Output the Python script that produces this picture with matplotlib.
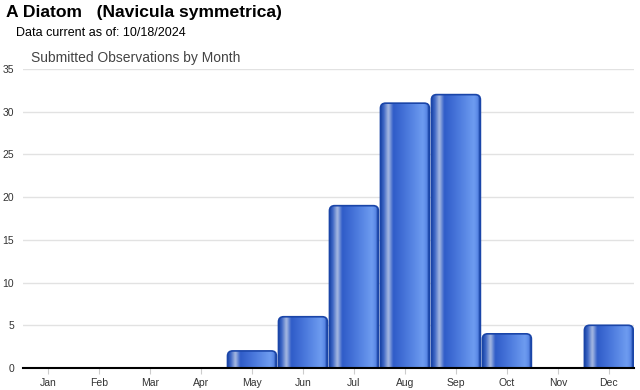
import numpy as np
import matplotlib.pyplot as plt
from matplotlib.patches import FancyBboxPatch
from matplotlib.colors import LinearSegmentedColormap

plt.rcParams['font.family'] = ['Liberation Sans', 'DejaVu Sans']

months = ['Jan', 'Feb', 'Mar', 'Apr', 'May', 'Jun',
          'Jul', 'Aug', 'Sep', 'Oct', 'Nov', 'Dec']
counts = [0, 0, 0, 0, 2, 6, 19, 31, 32, 4, 0, 5]
yticks = [0, 5, 10, 15, 20, 25, 30, 35]

fig = plt.figure(figsize=(6.4, 3.9), dpi=100)
ax = fig.add_axes([0.0352, 0.0564, 0.956, 0.7667])

# horizontal shading of the bars (dark edge, light streak, mid blue, lighter right)
shade = LinearSegmentedColormap.from_list('shade', [
    (0.00, '#1a45a5'), (0.07, '#3a64c4'), (0.17, '#a9bbe2'),
    (0.27, '#2f5cc8'), (0.55, '#4a78dc'), (0.88, '#6e9cf0'),
    (0.96, '#5a88e6'), (1.00, '#1a45a5')])
grad = np.linspace(0, 1, 200).reshape(1, -1)

w = 0.96
for i, c in enumerate(counts):
    if c == 0:
        continue
    x0 = i - w / 2
    box = FancyBboxPatch((x0, -1), w, c + 1,
                         boxstyle='round,pad=0,rounding_size=0.1',
                         mutation_aspect=6, facecolor='none',
                         edgecolor='#1a45a8', linewidth=1.2, zorder=4)
    ax.add_patch(box)
    im = ax.imshow(grad, cmap=shade, aspect='auto', extent=(x0, x0 + w, -1, c),
                   zorder=3, interpolation='bicubic')
    im.set_clip_path(box)

ax.set_xlim(-0.5, 11.5)
ax.set_ylim(0, 35)
ax.set_xticks(range(12))
ax.set_xticklabels(months)
ax.set_yticks(yticks)
ax.grid(axis='y', color='#e2e2e2', linewidth=1)
ax.set_axisbelow(True)
for s in ['top', 'right', 'left']:
    ax.spines[s].set_visible(False)
ax.spines['bottom'].set_color('black')
ax.spines['bottom'].set_linewidth(1.5)
ax.spines['bottom'].set_zorder(5)
ax.tick_params(axis='x', length=4, color='#cccccc', labelsize=7.5,
               labelcolor='#333333', pad=3)
ax.tick_params(axis='y', length=0, labelsize=7.5, labelcolor='#333333', pad=6)

fig.text(0.009, 0.988, 'A Diatom   (Navicula symmetrica)', fontsize=12.6,
         fontweight='bold', va='top', ha='left')
fig.text(0.025, 0.932, 'Data current as of: 10/18/2024', fontsize=9,
         va='top', ha='left')
fig.text(0.048, 0.868, 'Submitted Observations by Month', fontsize=10,
         color='#444444', va='top', ha='left')

fig.savefig('out.png', dpi=100)
